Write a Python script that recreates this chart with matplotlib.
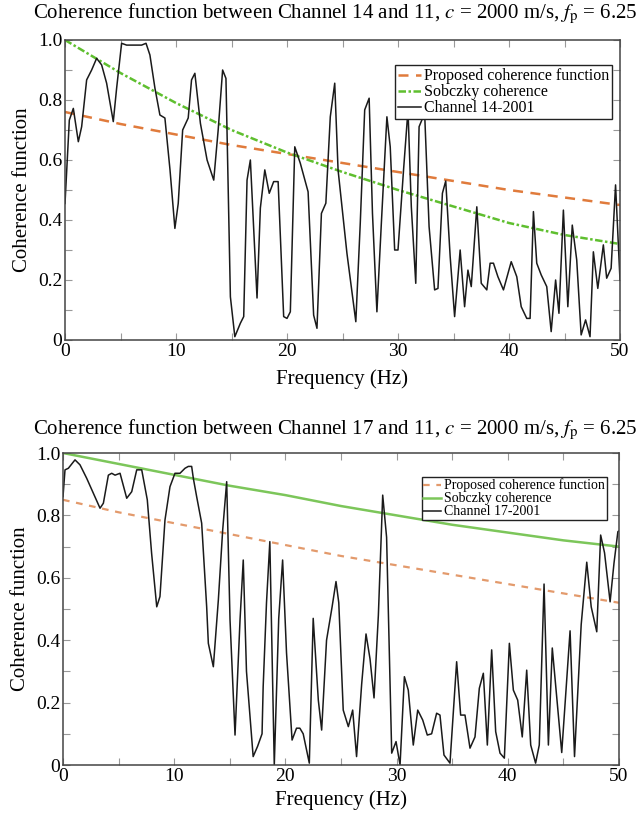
import matplotlib
matplotlib.use("Agg")
import matplotlib.pyplot as plt
from matplotlib.ticker import MultipleLocator, FixedLocator

# ---------------- data ----------------
curve_freq = [0, 5, 10, 15, 20, 25, 30, 35, 40, 45, 50]
top_proposed = [0.76, 0.72, 0.685, 0.65, 0.62, 0.59, 0.56, 0.53, 0.50, 0.475, 0.45]
top_sobczky = [1.0, 0.89, 0.79, 0.70, 0.625, 0.56, 0.50, 0.445, 0.39, 0.35, 0.32]
bot_proposed = [0.85, 0.81, 0.775, 0.74, 0.705, 0.67, 0.64, 0.61, 0.58, 0.55, 0.52]
bot_sobczky = [1.0, 0.965, 0.93, 0.895, 0.865, 0.83, 0.80, 0.77, 0.745, 0.72, 0.70]

top_freq = [0.0, 0.39, 0.75, 1.2, 1.5, 1.95, 2.4, 2.85, 3.3, 3.75, 4.35, 4.65, 5.1, 5.55,
            6.15, 6.9, 7.3, 7.65, 8.1, 8.55, 9.0, 9.46, 9.9, 10.2, 10.6, 11.1, 11.4, 11.7,
            12.2, 12.8, 13.4, 13.8, 14.2, 14.5, 14.9, 15.3, 15.8, 16.1, 16.4, 16.7, 17.3,
            17.6, 18.0, 18.4, 18.8, 19.2, 19.7, 20.0, 20.3, 20.7, 21.2, 21.9, 22.4, 22.7,
            23.1, 23.5, 23.9, 24.3, 24.6, 25.4, 26.2, 26.6, 27.0, 27.4, 27.7, 28.1, 28.5,
            29.0, 29.3, 29.7, 30.0, 30.5, 30.9, 31.2, 31.6, 31.9, 32.4, 32.8, 33.3, 33.6,
            34.0, 34.3, 34.7, 35.1, 35.6, 36.0, 36.3, 36.6, 37.1, 37.5, 38.0, 38.3, 38.6,
            39.0, 39.5, 40.2, 40.7, 41.1, 41.6, 41.9, 42.2, 42.5, 42.9, 43.4, 43.8, 44.2,
            44.5, 44.9, 45.3, 45.7, 46.1, 46.5, 46.9, 47.3, 47.6, 48.0, 48.5, 48.8, 49.2,
            49.6, 50.0]
top_coh = [0.455, 0.733, 0.772, 0.661, 0.711, 0.867, 0.9, 0.939, 0.917, 0.856, 0.728, 0.839,
           0.989, 0.983, 0.983, 0.983, 0.989, 0.95, 0.84, 0.75, 0.74, 0.567, 0.372, 0.455,
           0.70, 0.74, 0.867, 0.889, 0.722, 0.6, 0.533, 0.70, 0.9, 0.872, 0.144, 0.011,
           0.056, 0.078, 0.533, 0.60, 0.14, 0.44, 0.567, 0.489, 0.528, 0.528, 0.078, 0.072,
           0.094, 0.644, 0.589, 0.494, 0.083, 0.039, 0.422, 0.456, 0.744, 0.856, 0.567,
           0.289, 0.061, 0.389, 0.767, 0.806, 0.422, 0.094, 0.389, 0.744, 0.644, 0.3, 0.3,
           0.567, 0.767, 0.444, 0.189, 0.711, 0.756, 0.378, 0.167, 0.172, 0.489, 0.53,
           0.278, 0.078, 0.3, 0.111, 0.233, 0.178, 0.444, 0.189, 0.167, 0.256, 0.256,
           0.211, 0.167, 0.261, 0.211, 0.111, 0.072, 0.072, 0.428, 0.256, 0.217, 0.178,
           0.028, 0.2, 0.089, 0.433, 0.111, 0.383, 0.267, 0.017, 0.067, 0.011, 0.294,
           0.172, 0.317, 0.206, 0.239, 0.517, 0.2]

bot_freq = [0.0, 0.18, 0.48, 1.08, 1.53, 2.13, 2.73, 3.33, 3.63, 4.08, 4.38, 4.68, 5.13,
            5.73, 6.18, 6.63, 7.08, 7.58, 7.97, 8.43, 8.72, 9.17, 9.62, 10.07, 10.52, 10.97,
            11.27, 11.57, 11.72, 12.02, 12.47, 12.92, 13.07, 13.52, 13.97, 14.36, 14.72,
            15.02, 15.47, 15.92, 16.21, 16.5, 17.1, 17.5, 17.9, 18.0, 18.3, 18.6, 19.0,
            19.4, 19.75, 20.1, 20.6, 21.0, 21.3, 21.6, 22.15, 22.5, 22.96, 23.26, 23.7,
            24.2, 24.55, 24.8, 25.2, 25.66, 26.05, 26.4, 26.86, 27.25, 27.61, 27.97, 28.36,
            28.75, 29.1, 29.56, 29.95, 30.31, 30.7, 31.05, 31.5, 31.9, 32.35, 32.76, 33.15,
            33.6, 33.9, 34.26, 34.8, 35.4, 35.76, 36.15, 36.6, 37.05, 37.44, 37.8, 38.16,
            38.55, 38.91, 39.3, 39.69, 40.14, 40.5, 40.89, 41.3, 41.7, 42.06, 42.5, 42.83,
            43.26, 43.65, 44.0, 44.85, 45.6, 46.0, 46.6, 47.1, 47.5, 48.0, 48.35, 48.7,
            49.2, 49.55, 49.9, 50.0]
bot_coh = [0.86, 0.946, 0.951, 0.978, 0.962, 0.919, 0.871, 0.823, 0.839, 0.929, 0.935,
           0.929, 0.935, 0.855, 0.876, 0.946, 0.946, 0.85, 0.678, 0.507, 0.54, 0.785, 0.892,
           0.935, 0.935, 0.951, 0.957, 0.957, 0.919, 0.86, 0.775, 0.507, 0.39, 0.315, 0.529,
           0.753, 0.908, 0.465, 0.096, 0.465, 0.657, 0.3, 0.027, 0.06, 0.10, 0.25, 0.52,
           0.716, 0.0, 0.47, 0.657, 0.36, 0.08, 0.118, 0.118, 0.10, 0.006, 0.47, 0.208,
           0.112, 0.4, 0.507, 0.588, 0.52, 0.176, 0.123, 0.176, 0.027, 0.26, 0.42, 0.34,
           0.215, 0.48, 0.865, 0.73, 0.038, 0.075, 0.0, 0.283, 0.24, 0.064, 0.176, 0.144,
           0.096, 0.1, 0.166, 0.16, 0.032, 0.006, 0.331, 0.16, 0.16, 0.054, 0.09, 0.246,
           0.294, 0.064, 0.369, 0.107, 0.038, 0.022, 0.39, 0.24, 0.208, 0.09, 0.304, 0.064,
           0.006, 0.064, 0.58, 0.064, 0.375, 0.04, 0.43, 0.027, 0.45, 0.65, 0.507, 0.427,
           0.737, 0.68, 0.523, 0.647, 0.748, 0.75]

x_ticks = [0, 10, 20, 30, 40, 50]
x_tick_labels = ["0", "10", "20", "30", "40", "50"]
y_ticks = [0, 0.2, 0.4, 0.6, 0.8, 1.0]
y_tick_labels = ["0", "0.2", "0.4", "0.6", "0.8", "1.0"]

top_title = r"Coherence function between Channel 14 and 11, $c$ = 2000 m/s, $f_{\mathrm{p}}$ = 6.25"
bot_title = r"Coherence function between Channel 17 and 11, $c$ = 2000 m/s, $f_{\mathrm{p}}$ = 6.25"
top_labels = ["Proposed coherence function", "Sobczky coherence", "Channel 14-2001"]
bot_labels = ["Proposed coherence function", "Sobczky coherence", "Channel 17-2001"]

# ---------------- style ----------------
plt.rcParams["font.family"] = ["Liberation Serif", "DejaVu Serif"]
plt.rcParams["mathtext.fontset"] = "stix"

W, H = 643, 823
fig = plt.figure(figsize=(W / 100, H / 100), dpi=100)


def px_axes(l, t, r, b):
    return fig.add_axes([l / W, 1 - b / H, (r - l) / W, (b - t) / H])


def style_axes(ax, xpad):
    ax.set_xlim(0, 50)
    ax.set_ylim(0, 1.0)
    ax.xaxis.set_major_locator(FixedLocator(x_ticks))
    ax.set_xticklabels(x_tick_labels)
    ax.yaxis.set_major_locator(FixedLocator(y_ticks))
    ax.set_yticklabels(y_tick_labels)
    ax.xaxis.set_minor_locator(MultipleLocator(5))
    ax.yaxis.set_minor_locator(MultipleLocator(0.1))
    ax.tick_params(which="both", direction="in", top=True, right=True,
                   color="#999999", width=0.8)
    ax.tick_params(which="major", length=5, labelsize=14, pad=2)
    ax.tick_params(which="minor", length=5)
    for s in ax.spines.values():
        s.set_color("#444444")
        s.set_linewidth(1.1)
    ax.set_xlabel("Frequency (Hz)", fontsize=15, labelpad=xpad)
    ax.set_ylabel("Coherence function", fontsize=15, labelpad=4)


# top panel
ax1 = px_axes(65, 40, 620, 340)
l1, = ax1.plot(curve_freq, top_proposed, color="#e07b3c", lw=1.8, dashes=(4, 3))
l2, = ax1.plot(curve_freq, top_sobczky, color="#5fbf2f", lw=1.8, dashes=(3, 1, 1, 1))
l3, = ax1.plot(top_freq, top_coh, color="#1a1a1a", lw=1.1)
style_axes(ax1, 7)
leg1 = ax1.legend([l1, l2, l3], top_labels, loc="upper right",
                  bbox_to_anchor=(0.986, 0.917), fontsize=11.5, frameon=True,
                  fancybox=False, framealpha=1, edgecolor="#222222",
                  handlelength=1.4, handletextpad=0.2, labelspacing=0.0,
                  borderpad=0.2, borderaxespad=0.0)
leg1.get_frame().set_linewidth(1.0)
fig.text(0.522, 1 - 14 / H, top_title, ha="center", va="center", fontsize=15)

# bottom panel
ax2 = px_axes(63, 453, 619, 765)
m1, = ax2.plot(curve_freq, bot_proposed, color="#e39a6c", lw=1.6, dashes=(3, 3))
m2, = ax2.plot(curve_freq, bot_sobczky, color="#7cc65a", lw=1.8)
m3, = ax2.plot(bot_freq, bot_coh, color="#1a1a1a", lw=1.1)
style_axes(ax2, 4)
leg2 = ax2.legend([m1, m2, m3], bot_labels, loc="upper right",
                  bbox_to_anchor=(0.978, 0.923), fontsize=10, frameon=True,
                  fancybox=False, framealpha=1, edgecolor="#222222",
                  handlelength=1.3, handletextpad=0.2, labelspacing=0.0,
                  borderpad=0.12, borderaxespad=0.0)
leg2.get_frame().set_linewidth(1.0)
fig.text(0.522, 1 - 430 / H, bot_title, ha="center", va="center", fontsize=15)

fig.savefig("out.png", dpi=100, facecolor="white")
